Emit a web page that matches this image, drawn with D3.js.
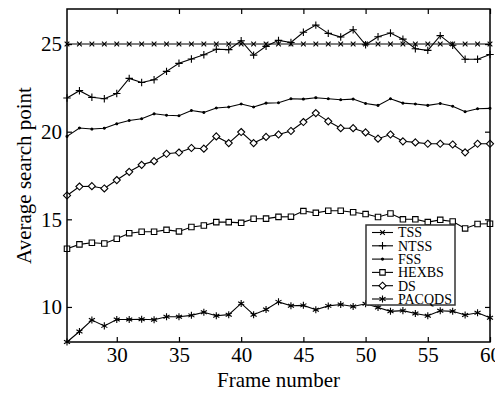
<!DOCTYPE html>
<html>
<head>
<meta charset="utf-8">
<script src="https://cdn.jsdelivr.net/npm/d3@7"></script>
<style>
  body { margin: 0; background: #fff; }
  svg { display: block; }
  text { font-family: "Liberation Serif", "Times New Roman", serif; fill: #000; }
</style>
</head>
<body>
<svg id="chart" width="495" height="395"></svg>
<script>
// frame numbers 26..60
const frames = [26,27,28,29,30,31,32,33,34,35,36,37,38,39,40,41,42,43,44,45,46,47,48,49,50,51,52,53,54,55,56,57,58,59,60];

const tss = [25,25,25,25,25,25,25,25,25,25,25,25,25,25,25,25,25,25,25,25,25,25,25,25,25,25,25,25,25,25,25,25,25,25,25];
const ntss = [21.92,22.34,21.96,21.88,22.18,23.04,22.81,22.96,23.44,23.9,24.15,24.39,24.7,24.68,25.19,24.37,24.87,25.21,25.09,25.67,26.08,25.61,25.4,25.82,24.96,25.42,25.63,25.28,24.73,24.64,25.48,24.93,24.13,24.13,24.4];
const fss = [19.73,20.21,20.15,20.2,20.45,20.64,20.74,21.02,20.94,20.91,21.21,21.1,21.35,21.41,21.58,21.41,21.63,21.65,21.88,21.86,21.94,21.88,21.82,21.86,21.61,21.5,21.88,21.63,21.58,21.5,21.61,21.45,21.14,21.31,21.33];
const hexbs = [13.32,13.57,13.66,13.62,13.89,14.21,14.29,14.29,14.4,14.31,14.56,14.65,14.84,14.84,14.8,15.03,15.04,15.14,15.15,15.47,15.37,15.49,15.49,15.4,15.3,15.13,15.33,15.0,15.0,14.84,14.97,14.88,14.48,14.73,14.75];
const ds = [16.36,16.87,16.89,16.76,17.24,17.71,18.11,18.32,18.74,18.81,19.07,19.03,19.73,19.35,19.98,19.35,19.7,19.84,20.04,20.55,21.06,20.59,20.2,20.2,19.96,19.6,19.84,19.45,19.39,19.31,19.31,19.27,18.82,19.31,19.31];
const pacqds = [8.0,8.6,9.25,8.92,9.28,9.28,9.3,9.27,9.44,9.44,9.52,9.7,9.5,9.56,10.2,9.56,9.86,10.29,10.07,10.09,9.84,10.06,10.14,10.03,10.18,9.97,9.75,9.79,9.63,9.5,9.78,9.75,9.54,9.67,9.38];

const seriesNames = ["TSS", "NTSS", "FSS", "HEXBS", "DS", "PACQDS"];
const xTicks = [30, 35, 40, 45, 50, 55, 60];
const yTicks = [10, 15, 20, 25];

const plotLeft = 67, plotRight = 490, plotTop = 9, plotBottom = 342;

const svg = d3.select("#chart");

const x = d3.scaleLinear().domain([26, 60]).range([plotLeft, plotRight]);
const y = d3.scaleLinear().domain([8, 27]).range([plotBottom, plotTop]);

const symTimes = d3.symbolTimes || d3.symbolX;
const markers = {
  TSS: {type: symTimes, size: 16, fill: "none"},
  NTSS: {type: d3.symbolPlus, size: 20, fill: "none"},
  FSS: {type: d3.symbolCircle, size: 3, fill: "#000"},
  HEXBS: {type: d3.symbolSquare2, size: 38, fill: "#fff"},
  DS: {type: d3.symbolDiamond2, size: 32, fill: "#fff"},
  PACQDS: {type: d3.symbolAsterisk, size: 34, fill: "none"}
};

const allSeries = [tss, ntss, fss, hexbs, ds, pacqds].map((vals, i) => ({
  name: seriesNames[i],
  points: frames.map((f, j) => [f, vals[j]])
}));

// lines
const line = d3.line().x(d => x(d[0])).y(d => y(d[1]));

const plot = svg.append("g");

allSeries.forEach(s => {
  plot.append("path")
    .datum(s.points)
    .attr("fill", "none")
    .attr("stroke", "#000")
    .attr("stroke-width", 1.1)
    .attr("d", line);

  const m = markers[s.name];
  plot.selectAll(null)
    .data(s.points)
    .enter().append("path")
    .attr("transform", d => "translate(" + x(d[0]) + "," + y(d[1]) + ")")
    .attr("d", d3.symbol().type(m.type).size(m.size))
    .attr("fill", m.fill)
    .attr("stroke", "#000")
    .attr("stroke-width", 1.1);
});

// axes (ticks inward, box all round)
const axisFont = "21px";

svg.append("g")
  .attr("transform", "translate(0," + plotBottom + ")")
  .call(d3.axisBottom(x).tickValues(xTicks).tickSizeInner(-5).tickSizeOuter(0).tickPadding(5))
  .call(g => g.select(".domain").remove())
  .selectAll("text")
  .style("font-size", axisFont)
  .style("font-family", "Liberation Serif, Times New Roman, serif");

svg.append("g")
  .attr("transform", "translate(" + plotLeft + ",0)")
  .call(d3.axisLeft(y).tickValues(yTicks).tickSizeInner(-5).tickSizeOuter(0).tickPadding(5))
  .call(g => g.select(".domain").remove())
  .selectAll("text")
  .style("font-size", axisFont)
  .style("font-family", "Liberation Serif, Times New Roman, serif");

svg.append("g")
  .attr("transform", "translate(0," + plotTop + ")")
  .call(d3.axisTop(x).tickValues(xTicks).tickSizeInner(-5).tickSizeOuter(0).tickFormat(""))
  .call(g => g.select(".domain").remove());

svg.append("g")
  .attr("transform", "translate(" + plotRight + ",0)")
  .call(d3.axisRight(y).tickValues(yTicks).tickSizeInner(-5).tickSizeOuter(0).tickFormat(""))
  .call(g => g.select(".domain").remove());

svg.selectAll(".tick line").attr("stroke", "#000").attr("stroke-width", 1.2);

svg.append("rect")
  .attr("x", plotLeft)
  .attr("y", plotTop)
  .attr("width", plotRight - plotLeft)
  .attr("height", plotBottom - plotTop)
  .attr("fill", "none")
  .attr("stroke", "#000")
  .attr("stroke-width", 1.5);

// axis titles
svg.append("text")
  .attr("x", (plotLeft + plotRight) / 2)
  .attr("y", 387)
  .attr("text-anchor", "middle")
  .style("font-size", "21px")
  .text("Frame number");

svg.append("text")
  .attr("transform", "translate(31," + ((plotTop + plotBottom) / 2) + ") rotate(-90)")
  .attr("text-anchor", "middle")
  .style("font-size", "21px")
  .text("Average search point");

// legend
const legend = svg.append("g").attr("transform", "translate(366,225)");
const rowH = 13.3;

legend.append("rect")
  .attr("width", 89)
  .attr("height", 80)
  .attr("fill", "#fff")
  .attr("stroke", "#333")
  .attr("stroke-width", 1.5);

seriesNames.forEach((name, i) => {
  const cy = 7.5 + i * rowH;
  const m = markers[name];
  legend.append("line")
    .attr("x1", 6).attr("x2", 27)
    .attr("y1", cy).attr("y2", cy)
    .attr("stroke", "#000")
    .attr("stroke-width", 1.1);
  legend.append("path")
    .attr("transform", "translate(16.5," + cy + ")")
    .attr("d", d3.symbol().type(m.type).size(m.size))
    .attr("fill", m.fill)
    .attr("stroke", "#000")
    .attr("stroke-width", 1.1);
  legend.append("text")
    .attr("x", 32)
    .attr("y", cy)
    .attr("dy", "0.35em")
    .style("font-size", "14px")
    .text(name);
});
</script>
</body>
</html>
